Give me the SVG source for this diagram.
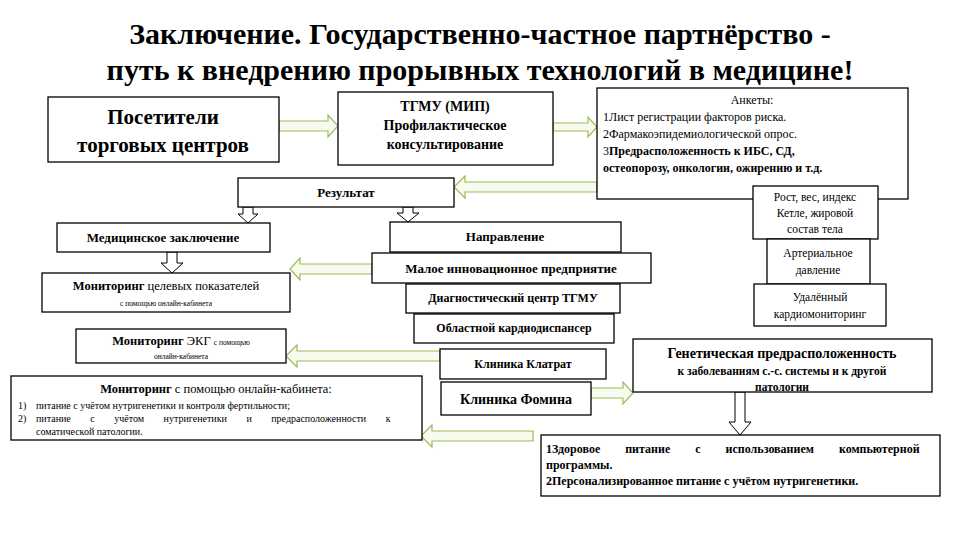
<svg xmlns="http://www.w3.org/2000/svg" width="960" height="540" viewBox="0 0 960 540" font-family="'Liberation Serif', 'DejaVu Serif', 'Times New Roman', serif">
<style>
.b{fill:#fff;stroke:#000;stroke-width:1.3}
.g{fill:#f6faef;stroke:#9bbb59;stroke-width:1.2}
.d{fill:#fff;stroke:#000;stroke-width:1}
text{font-family:'Liberation Serif','DejaVu Serif','Times New Roman',serif;fill:#000}
.bd{font-weight:bold}
</style>
<rect width="960" height="540" fill="#fff"/>
<text x="480" y="44" font-size="30" text-anchor="middle" class="bd">Заключение. Государственно-частное партнёрство -</text>
<text x="480" y="80" font-size="30" text-anchor="middle" class="bd">путь к  внедрению прорывных технологий в медицине!</text>
<g id="connectors">
<polygon class="g" points="279,121 328,121 328,115 338,126 328,137 328,131 279,131"/>
<polygon class="g" points="553,123 588,123 588,117 597,127 588,137 588,131 553,131"/>
<polygon class="g" points="597,182 465,182 465,176 454,187 465,198 465,192 597,192"/>
<polygon class="g" points="372,264 300,264 300,258 290,269 300,280 300,274 372,274"/>
<polygon class="g" points="440,351 297,351 297,345 286,356 297,367 297,361 440,361"/>
<polygon class="g" points="533,431 432,431 432,425 421,436 432,447 432,441 533,441"/>
<polygon class="g" points="591,388 623,388 623,382 633,393 623,404 623,398 591,398"/>
<polygon class="d" points="243,207 253,207 253,214 258,214 248,223 238,214 243,214"/>
<polygon class="d" points="403,207 413,207 413,213 419,213 408,222 397,213 403,213"/>
<polygon class="d" points="167,252 177,252 177,263 183,263 172,273 161,263 167,263"/>
<polygon class="d" points="735,392 745,392 745,422 751,422 740,435 729,422 735,422"/>
</g>
<g id="n1"><rect class="b" x="48" y="97" width="231" height="65"/>
<text x="163" y="124" font-size="21" text-anchor="middle" class="bd">Посетители</text>
<text x="163" y="152" font-size="21" text-anchor="middle" class="bd">торговых центров</text></g>
<g id="n2"><rect class="b" x="338" y="92" width="215" height="73"/>
<text x="445" y="111" font-size="14" text-anchor="middle" class="bd">ТГМУ (МИП)</text>
<text x="445" y="130" font-size="14" text-anchor="middle" class="bd">Профилактическое</text>
<text x="445" y="149" font-size="14" text-anchor="middle" class="bd">консультирование</text></g>
<g id="n3"><rect class="b" x="597" y="88" width="311" height="111"/>
<text x="752" y="104" font-size="12" text-anchor="middle">Анкеты:</text>
<text x="603" y="121" font-size="12">1Лист регистрации факторов риска.</text>
<text x="603" y="138" font-size="12">2Фармакоэпидемиологической опрос.</text>
<text x="603" y="155" font-size="12">3<tspan class="bd">Предрасположенность к ИБС, СД,</tspan></text>
<text x="603" y="172" font-size="12" class="bd">остеопорозу, онкологии, ожирению и т.д.</text></g>
<g id="n4"><rect class="b" x="238" y="178" width="216" height="29"/>
<text x="346" y="197" font-size="13" text-anchor="middle" class="bd">Результат</text></g>
<g id="n5"><rect class="b" x="57" y="223" width="213" height="29"/>
<text x="163" y="242" font-size="13" text-anchor="middle" class="bd">Медицинское заключение</text></g>
<g id="n6"><rect class="b" x="390" y="222" width="231" height="30"/>
<text x="505" y="241" font-size="13" text-anchor="middle" class="bd">Направление</text></g>
<g id="n7"><rect class="b" x="372" y="253" width="279" height="30"/>
<text x="511" y="273" font-size="13" text-anchor="middle" class="bd">Малое инновационное предприятие</text></g>
<g id="n8"><rect class="b" x="406" y="284" width="214" height="29"/>
<text x="513" y="302" font-size="12" text-anchor="middle" class="bd">Диагностический центр ТГМУ</text></g>
<g id="n9"><rect class="b" x="414" y="314" width="200" height="29"/>
<text x="514" y="332" font-size="12" text-anchor="middle" class="bd">Областной кардиодиспансер</text></g>
<g id="n10"><rect class="b" x="753" y="186" width="125" height="53"/>
<text x="815" y="201" font-size="11.5" text-anchor="middle">Рост, вес, индекс</text>
<text x="815" y="217" font-size="11.5" text-anchor="middle">Кетле, жировой</text>
<text x="815" y="233" font-size="11.5" text-anchor="middle">состав тела</text></g>
<g id="n11"><rect class="b" x="767" y="239" width="103" height="45"/>
<text x="818" y="257" font-size="11.5" text-anchor="middle">Артериальное</text>
<text x="818" y="274" font-size="11.5" text-anchor="middle">давление</text></g>
<g id="n12"><rect class="b" x="754" y="284" width="132" height="42"/>
<text x="820" y="301" font-size="11.5" text-anchor="middle">Удалённый</text>
<text x="820" y="318" font-size="11.5" text-anchor="middle">кардиомониторинг</text></g>
<g id="n13"><rect class="b" x="42" y="273" width="248" height="39"/>
<text x="166" y="290" font-size="12.5" text-anchor="middle"><tspan class="bd">Мониторинг</tspan> целевых показателей</text>
<text x="166" y="306" font-size="7.5" text-anchor="middle">с помощью онлайн-кабинета</text></g>
<g id="n14"><rect class="b" x="76" y="329" width="210" height="34"/>
<text x="181" y="345" font-size="12.5" text-anchor="middle"><tspan class="bd">Мониторинг</tspan> ЭКГ <tspan font-size="7.5">с помощью</tspan></text>
<text x="181" y="359" font-size="7.5" text-anchor="middle">онлайн-кабинета</text></g>
<g id="n15"><rect class="b" x="11" y="376" width="411" height="64"/>
<text x="216" y="393" font-size="12.5" text-anchor="middle"><tspan class="bd">Мониторинг</tspan> с помощью онлайн-кабинета:</text>
<text x="18" y="409" font-size="10">1)</text><text x="36" y="409" font-size="10">питание с учётом нутригенетики и контроля фертильности;</text>
<text x="18" y="422" font-size="10">2)</text><text x="36" y="422" font-size="10" word-spacing="17">питание с учётом нутригенетики и предрасположенности к</text>
<text x="36" y="435" font-size="10">соматической патологии.</text></g>
<g id="n16"><rect class="b" x="440" y="349" width="166" height="30"/>
<text x="523" y="368" font-size="12" text-anchor="middle" class="bd">Клиника Клатрат</text></g>
<g id="n17"><rect class="b" x="441" y="382" width="150" height="33"/>
<text x="516" y="404" font-size="14" text-anchor="middle" class="bd">Клиника Фомина</text></g>
<g id="n18"><rect class="b" x="633" y="339" width="299" height="53"/>
<text x="782" y="358" font-size="14" text-anchor="middle" class="bd">Генетическая предрасположенность</text>
<text x="782" y="375" font-size="11.5" text-anchor="middle" class="bd">к заболеваниям с.-с. системы и к другой</text>
<text x="782" y="391" font-size="11.5" text-anchor="middle" class="bd">патологии</text></g>
<g id="n19"><rect class="b" x="541" y="435" width="399" height="61"/>
<text x="546" y="453" font-size="12" class="bd" word-spacing="22">1Здоровое питание с использованием компьютерной</text>
<text x="546" y="469" font-size="12" class="bd">программы.</text>
<text x="546" y="485" font-size="12" class="bd">2Персонализированное питание с учётом нутригенетики.</text></g>
</svg>
